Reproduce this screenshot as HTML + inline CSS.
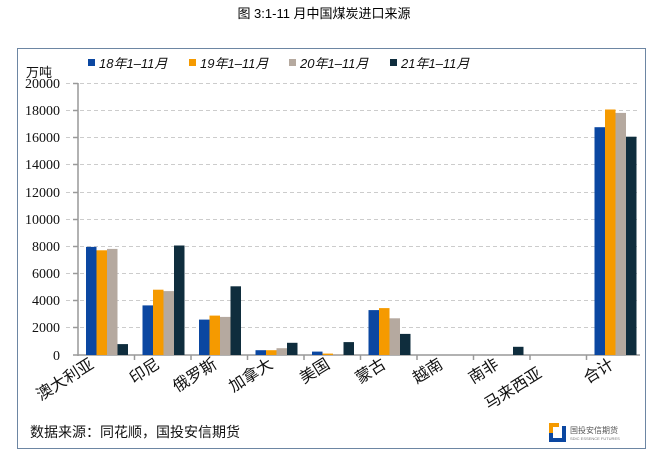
<!DOCTYPE html>
<html><head><meta charset="utf-8"><style>
body{margin:0;background:#fff;width:648px;height:462px;overflow:hidden}
svg{display:block;font-family:"Liberation Sans","Noto Sans CJK SC",sans-serif}
</style></head><body>
<svg width="648" height="462" xmlns="http://www.w3.org/2000/svg">
<text x="324" y="18" font-size="13" text-anchor="middle" fill="#000">图 3:1-11 月中国煤炭进口来源</text>
<rect x="17.5" y="48.5" width="628" height="400" fill="none" stroke="#6d86a3" stroke-width="1"/>
<g font-size="13" font-style="italic" fill="#111">
<rect x="88" y="59" width="7" height="7" fill="#0b47a1"/><text x="99" y="68">18年1–11月</text>
<rect x="189" y="59" width="7" height="7" fill="#f59a00"/><text x="200" y="68">19年1–11月</text>
<rect x="289" y="59" width="7" height="7" fill="#b5a99f"/><text x="300" y="68">20年1–11月</text>
<rect x="390" y="59" width="7" height="7" fill="#0f2d3d"/><text x="401" y="68">21年1–11月</text>
</g>
<text x="26" y="77" font-size="13" fill="#111">万吨</text>
<g stroke="#ccc" stroke-dasharray="4,3" stroke-width="1">
<line x1="66" x2="640" y1="83.5" y2="83.5"/><line x1="66" x2="640" y1="110.5" y2="110.5"/>
<line x1="66" x2="640" y1="137.5" y2="137.5"/><line x1="66" x2="640" y1="164.5" y2="164.5"/>
<line x1="66" x2="640" y1="192.5" y2="192.5"/><line x1="66" x2="640" y1="219.5" y2="219.5"/>
<line x1="66" x2="640" y1="246.5" y2="246.5"/><line x1="66" x2="640" y1="273.5" y2="273.5"/>
<line x1="66" x2="640" y1="300.5" y2="300.5"/><line x1="66" x2="640" y1="327.5" y2="327.5"/>
</g>
<g font-family="Liberation Serif,serif" font-size="14" text-anchor="end" fill="#111">
<text x="60" y="88">20000</text><text x="60" y="115">18000</text><text x="60" y="142">16000</text>
<text x="60" y="169">14000</text><text x="60" y="197">12000</text><text x="60" y="224">10000</text>
<text x="60" y="251">8000</text><text x="60" y="278">6000</text><text x="60" y="305">4000</text>
<text x="60" y="332">2000</text><text x="60" y="360">0</text>
</g>
<g stroke="#999" stroke-width="1.5">
<line x1="78" y1="83" x2="78" y2="356"/>
<line x1="73" y1="83.5" x2="78" y2="83.5"/><line x1="73" y1="110.5" x2="78" y2="110.5"/><line x1="73" y1="137.5" x2="78" y2="137.5"/><line x1="73" y1="164.5" x2="78" y2="164.5"/><line x1="73" y1="192.5" x2="78" y2="192.5"/><line x1="73" y1="219.5" x2="78" y2="219.5"/><line x1="73" y1="246.5" x2="78" y2="246.5"/><line x1="73" y1="273.5" x2="78" y2="273.5"/><line x1="73" y1="300.5" x2="78" y2="300.5"/><line x1="73" y1="327.5" x2="78" y2="327.5"/>
<line x1="73" y1="355" x2="640" y2="355"/>
<line x1="134.5" y1="355" x2="134.5" y2="360"/><line x1="191" y1="355" x2="191" y2="360"/><line x1="247.5" y1="355" x2="247.5" y2="360"/><line x1="304" y1="355" x2="304" y2="360"/><line x1="360.5" y1="355" x2="360.5" y2="360"/><line x1="417" y1="355" x2="417" y2="360"/><line x1="473.5" y1="355" x2="473.5" y2="360"/><line x1="530" y1="355" x2="530" y2="360"/><line x1="586.5" y1="355" x2="586.5" y2="360"/>
</g>
<g>
<rect x="86" y="246.9" width="10.5" height="108.1" fill="#0b47a1"/>
<rect x="96.5" y="250.3" width="10.5" height="104.7" fill="#f59a00"/>
<rect x="107" y="248.9" width="10.5" height="106.1" fill="#b5a99f"/>
<rect x="117.5" y="344.1" width="10.5" height="10.9" fill="#0f2d3d"/>
<rect x="142.5" y="305.4" width="10.5" height="49.6" fill="#0b47a1"/>
<rect x="153" y="289.7" width="10.5" height="65.3" fill="#f59a00"/>
<rect x="163.5" y="291.1" width="10.5" height="63.9" fill="#b5a99f"/>
<rect x="174" y="245.5" width="10.5" height="109.5" fill="#0f2d3d"/>
<rect x="199" y="319.6" width="10.5" height="35.4" fill="#0b47a1"/>
<rect x="209.5" y="315.6" width="10.5" height="39.4" fill="#f59a00"/>
<rect x="220" y="316.9" width="10.5" height="38.1" fill="#b5a99f"/>
<rect x="230.5" y="286.3" width="10.5" height="68.7" fill="#0f2d3d"/>
<rect x="255.5" y="350.2" width="10.5" height="4.8" fill="#0b47a1"/>
<rect x="266" y="350.2" width="10.5" height="4.8" fill="#f59a00"/>
<rect x="276.5" y="348.2" width="10.5" height="6.8" fill="#b5a99f"/>
<rect x="287" y="342.8" width="10.5" height="12.2" fill="#0f2d3d"/>
<rect x="312" y="351.6" width="10.5" height="3.4" fill="#0b47a1"/>
<rect x="322.5" y="353.6" width="10.5" height="1.4" fill="#f59a00"/>
<rect x="333" y="354.3" width="10.5" height="0.7" fill="#b5a99f"/>
<rect x="343.5" y="342.1" width="10.5" height="12.9" fill="#0f2d3d"/>
<rect x="368.5" y="310.1" width="10.5" height="44.9" fill="#0b47a1"/>
<rect x="379" y="308.1" width="10.5" height="46.9" fill="#f59a00"/>
<rect x="389.5" y="318.3" width="10.5" height="36.7" fill="#b5a99f"/>
<rect x="400" y="333.9" width="10.5" height="21.1" fill="#0f2d3d"/>
<rect x="513" y="346.8" width="10.5" height="8.2" fill="#0f2d3d"/>
<rect x="594.5" y="127.2" width="10.5" height="227.8" fill="#0b47a1"/>
<rect x="605" y="109.5" width="10.5" height="245.5" fill="#f59a00"/>
<rect x="615.5" y="112.9" width="10.5" height="242.1" fill="#b5a99f"/>
<rect x="626" y="136.7" width="10.5" height="218.3" fill="#0f2d3d"/>
</g>
<g font-size="16" fill="#111" text-anchor="end">
<text transform="translate(95,367) rotate(-32)">澳大利亚</text>
<text transform="translate(161,367) rotate(-32)">印尼</text>
<text transform="translate(218,367) rotate(-32)">俄罗斯</text>
<text transform="translate(274,367) rotate(-32)">加拿大</text>
<text transform="translate(331,367) rotate(-32)">美国</text>
<text transform="translate(387,367) rotate(-32)">蒙古</text>
<text transform="translate(444,367) rotate(-32)">越南</text>
<text transform="translate(500,367) rotate(-32)">南非</text>
<text transform="translate(543,376) rotate(-32)">马来西亚</text>
<text transform="translate(615,367) rotate(-32)">合计</text>
</g>
<text x="30" y="437" font-size="14" fill="#111">数据来源：同花顺，国投安信期货</text>
<path d="M549 423 h10 v4 h-6 v9 h-4z" fill="#f59a00"/>
<path d="M549 433 h4 v5 h9 v-12 h4 v16 h-17z" fill="#0b47a1"/>
<text x="570" y="433" font-size="8" fill="#555">国投安信期货</text>
<text x="570" y="440" font-size="4" fill="#777">SDIC ESSENCE FUTURES</text>
</svg>
</body></html>
